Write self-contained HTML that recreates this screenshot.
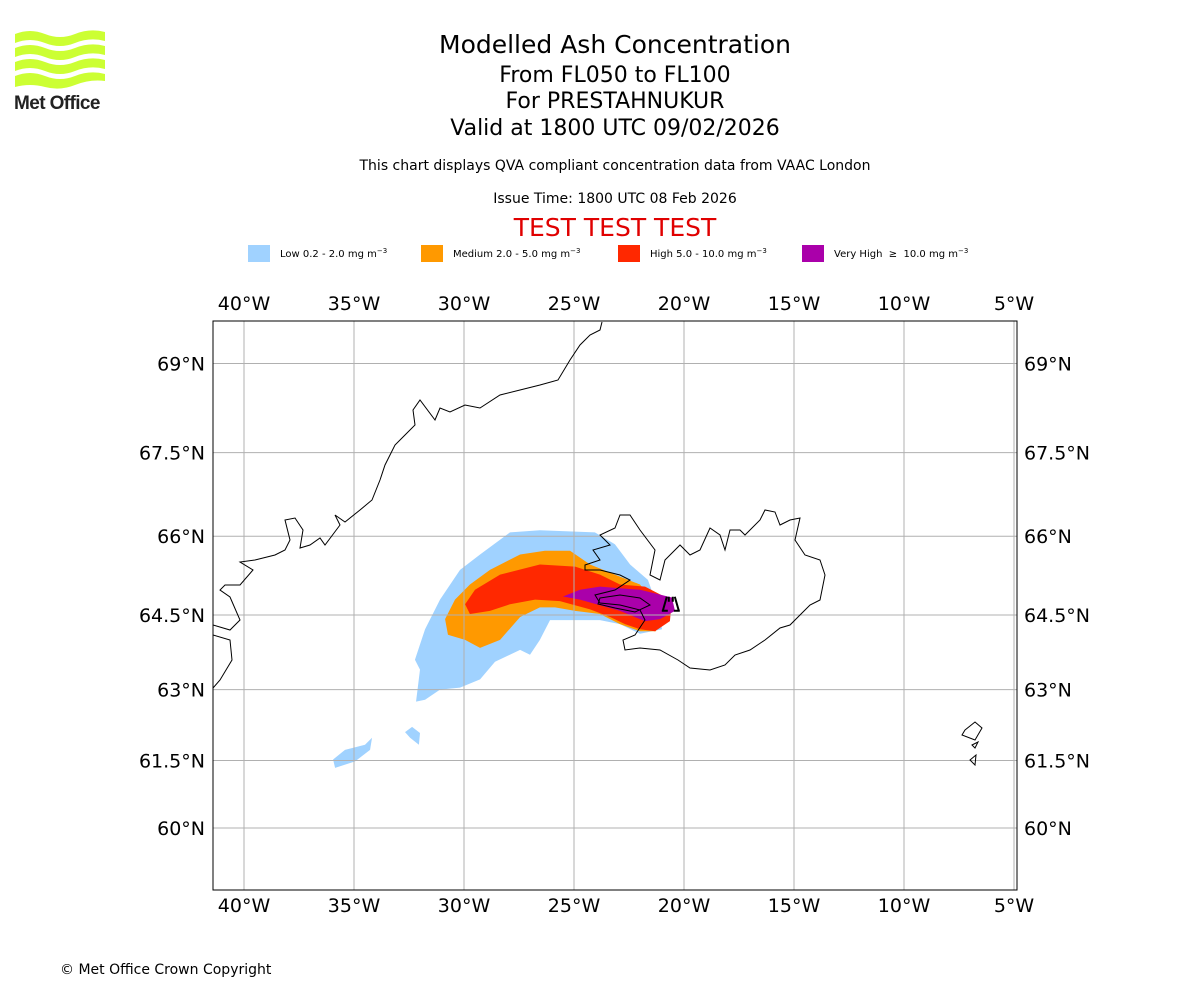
<!DOCTYPE html>
<html><head><meta charset="utf-8"><style>
body{margin:0;background:#fff;width:1200px;height:1000px;overflow:hidden;font-family:"DejaVu Sans","Liberation Sans",sans-serif}
.t{position:absolute;left:0;width:1230px;text-align:center;color:#000}
</style></head><body>
<svg style="position:absolute;left:10px;top:28px" width="100" height="90">
<g fill="#ccff33">
<path d="M5 6 Q20 0 35 6 T65 6 T95 4 V13 Q80 9 65 15 T35 15 T5 15Z"/>
<path d="M5 20 Q20 14 35 20 T65 20 T95 18 V27 Q80 23 65 29 T35 29 T5 29Z"/>
<path d="M5 34 Q20 28 35 34 T65 34 T95 32 V41 Q80 37 65 43 T35 43 T5 43Z"/>
<path d="M5 48 Q20 42 35 48 T65 48 T95 46 V53 Q80 51 65 57 T35 59 T5 59Z"/>
</g>
<text x="4" y="81" font-family="Liberation Sans,sans-serif" font-weight="bold" font-size="19" fill="#222" letter-spacing="-0.6">Met Office</text>
</svg>
<div class="t" style="top:30px;font-size:25px">Modelled Ash Concentration</div>
<div class="t" style="top:63px;font-size:22px">From FL050 to FL100</div>
<div class="t" style="top:89px;font-size:22px">For PRESTAHNUKUR</div>
<div class="t" style="top:116px;font-size:22px">Valid at 1800 UTC 09/02/2026</div>
<div class="t" style="top:158px;font-size:14px">This chart displays QVA compliant concentration data from VAAC London</div>
<div class="t" style="top:191px;font-size:14px">Issue Time: 1800 UTC 08 Feb 2026</div>
<div class="t" style="top:213px;font-size:25px;color:#e00000">TEST TEST TEST</div>
<div style="position:absolute;left:60px;top:962px;font-size:14px">© Met Office Crown Copyright</div>
<svg id="map" width="1200" height="1000" style="position:absolute;left:0;top:0"></svg>
<script>
const legendLabels=["Low 0.2 - 2.0 mg m","Medium 2.0 - 5.0 mg m","High 5.0 - 10.0 mg m","Very High \u00a0\u2265\u00a0 10.0 mg m"];
const legendColors=["#a0d2ff","#ff9900","#ff2800","#aa00aa"];
const lonTicks=[-40,-35,-30,-25,-20,-15,-10,-5];
const latTicks=[60,61.5,63,64.5,66,67.5,69];
const lowLon=[-27.91,-26.55,-24.05,-23.14,-22.45,-21.64,-21.32,-21.09,-21.0,-22.0,-22.91,-23.82,-26.09,-26.55,-27.0,-27.45,-28.59,-29.27,-30.18,-31.09,-31.77,-32.18,-32.0,-32.23,-31.77,-31.09,-30.18,-29.27];
const lowLat=[66.07,66.11,66.07,65.85,65.47,65.18,64.80,64.52,64.22,64.13,64.32,64.40,64.40,64.01,63.71,63.81,63.57,63.21,63.04,63.0,62.79,62.75,63.41,63.61,64.22,64.80,65.37,65.66];
const low2Lon=[-32.68,-32.36,-32.0,-32.05,-32.45];
const low2Lat=[62.11,62.22,62.09,61.84,61.99];
const low3Lon=[-35.95,-35.41,-34.5,-34.18,-34.27,-34.95,-35.86];
const low3Lat=[61.52,61.73,61.84,61.99,61.73,61.48,61.34];
const medLon=[-27.45,-26.32,-25.18,-24.27,-23.14,-22.0,-21.64,-21.55,-21.27,-22.0,-22.91,-23.82,-24.95,-25.86,-26.55,-27.45,-28.36,-29.27,-29.95,-30.73,-30.86,-30.41,-29.73,-28.82];
const medLat=[65.66,65.73,65.73,65.47,65.28,65.09,64.90,64.61,64.18,64.18,64.32,64.52,64.58,64.65,64.65,64.46,64.01,63.85,64.01,64.11,64.42,64.80,65.09,65.37];
const highLon=[-29.95,-29.5,-28.36,-26.55,-24.95,-23.82,-22.91,-21.77,-21.09,-20.55,-20.64,-21.32,-22.0,-22.68,-23.36,-24.27,-25.64,-26.77,-27.91,-28.82,-29.73];
const highLat=[64.71,64.99,65.28,65.47,65.43,65.28,65.09,65.05,64.90,64.80,64.38,64.18,64.22,64.32,64.46,64.61,64.77,64.80,64.71,64.58,64.52];
const vhLon=[-25.5,-24.73,-23.82,-22.0,-20.55,-20.41,-21.09,-21.77,-22.23,-22.91,-23.82,-24.73];
const vhLat=[64.86,64.99,65.05,64.99,64.84,64.58,64.42,64.38,64.46,64.58,64.69,64.80];
const volcanoLon=[-20.6], volcanoLat=[64.7];

const NS="http://www.w3.org/2000/svg", svg=document.getElementById('map');
const L=213,R=1017,T=321,B=890;
const merc=l=>Math.log(Math.tan(Math.PI/4+l*Math.PI/360));
const X=lon=>244+(lon+40)*22;
const Y=lat=>828-1260*(merc(lat)-merc(60));
function mk(tag,attrs){const e=document.createElementNS(NS,tag);for(const k in attrs)e.setAttribute(k,attrs[k]);svg.appendChild(e);return e;}
const lx=[248,421,618,802];
legendLabels.forEach((s,i)=>{
 const r=mk('rect',{x:lx[i],y:245,width:22,height:17,fill:legendColors[i]});
 
 
 const t=mk('text',{x:lx[i]+32,y:257,'font-size':10});
 
 
 t.innerHTML=s+'<tspan dy="-4" font-size="7">\u22123</tspan>';
});
const defs=mk('defs',{});
const cp=document.createElementNS(NS,'clipPath');cp.setAttribute('id','cp');defs.appendChild(cp);
const cr=document.createElementNS(NS,'rect');cr.setAttribute('x',L);cr.setAttribute('y',T);cr.setAttribute('width',R-L);cr.setAttribute('height',B-T);cp.appendChild(cr);
const g=mk('g',{'clip-path':'url(#cp)'});
function poly(lons,lats,fill,name){const p=document.createElementNS(NS,'polygon');
 p.setAttribute('points',lons.map((v,i)=>X(v)+','+Y(lats[i])).join(' '));p.setAttribute('fill',fill);
 
 
 g.appendChild(p);}
poly(lowLon,lowLat,legendColors[0],'ash-low');
poly(low2Lon,low2Lat,legendColors[0],'ash-low-patch');
poly(low3Lon,low3Lat,legendColors[0],'ash-low-patch');
poly(medLon,medLat,legendColors[1],'ash-medium');
poly(highLon,highLat,legendColors[2],'ash-high');
poly(vhLon,vhLat,legendColors[3],'ash-very-high');
lonTicks.forEach(v=>{const l=document.createElementNS(NS,'line');l.setAttribute('x1',X(v));l.setAttribute('x2',X(v));l.setAttribute('y1',T);l.setAttribute('y2',B);l.setAttribute('stroke','#b0b0b0');g.appendChild(l);});
latTicks.forEach(v=>{const l=document.createElementNS(NS,'line');l.setAttribute('y1',Y(v));l.setAttribute('y2',Y(v));l.setAttribute('x1',L);l.setAttribute('x2',R);l.setAttribute('stroke','#b0b0b0');g.appendChild(l);});
const coasts=["M602,322 L600,330 590,335 580,345 570,360 558,380 540,385 520,390 500,395 480,408 465,405 450,412 440,408 435,420 420,400 413,410 415,425 405,435 395,445 385,465 380,480 372,500 360,510 345,522 335,515 340,525 325,545 320,538 310,545 300,548 303,530 295,518 285,520 290,540 285,550 275,555 255,560 240,562 253,570 240,585 225,585 220,590 230,597 240,620 230,630 213,625",
"M213,635 L230,640 232,660 220,680 213,688",
"M585,565 L600,560 593,550 610,545 600,535 615,528 620,515 630,515 640,530 655,550 650,575 660,580 665,560 680,545 690,555 700,550 710,528 720,535 725,550 730,530 740,530 745,535 760,520 765,510 775,512 780,525 790,520 800,518 795,540 805,555 820,560 825,575 820,600 810,605 800,615 790,625 780,628 765,640 750,650 735,655 725,665 710,670 690,668 678,660 660,650 640,648 625,650 623,640 635,635 645,620 640,610 620,605 600,603 595,595 615,590 630,580 620,575 600,570 585,570Z",
"M965,730 L975,722 982,728 975,740 962,735Z M972,745 L978,742 975,748Z M970,760 L976,755 975,765Z",
"M600,598 L620,595 640,598 650,605 635,612 615,608 598,604Z"];
coasts.forEach(d=>{const p=document.createElementNS(NS,'path');p.setAttribute('d',d);p.setAttribute('fill','none');p.setAttribute('stroke','#000');p.setAttribute('stroke-width','1');
 
 
 g.appendChild(p);});
volcanoLon.forEach((v,i)=>{const x=X(v),y=Y(volcanoLat[i]);
 const p=document.createElementNS(NS,'path');p.setAttribute('d',`M${x-8},${y+6} L${x-4},${y-8} M${x+8},${y+6} L${x+4},${y-8} M${x-9},${y+6} H${x-3} M${x+3},${y+6} H${x+9} M${x-2},${y-8} V${y-3} M${x+2},${y-8} V${y-3}`);
 p.setAttribute('stroke','#000');p.setAttribute('stroke-width','2');p.setAttribute('fill','none');
 
 
 g.appendChild(p);});
const fr=mk('rect',{x:L,y:T,width:R-L,height:B-T,fill:'none',stroke:'#000','stroke-width':1});


lonTicks.forEach(v=>{const s=Math.abs(v)+'°W';
 [310,912].forEach(yy=>{const t=mk('text',{x:X(v),y:yy,'text-anchor':'middle','font-size':19});t.textContent=s;
 
 });});
latTicks.forEach(v=>{const s=v+'°N';
 const a=mk('text',{x:205,y:Y(v)+7,'text-anchor':'end','font-size':19});a.textContent=s;
 
 
 const b=mk('text',{x:1024,y:Y(v)+7,'font-size':19});b.textContent=s;
 
 });
</script>
</body></html>
